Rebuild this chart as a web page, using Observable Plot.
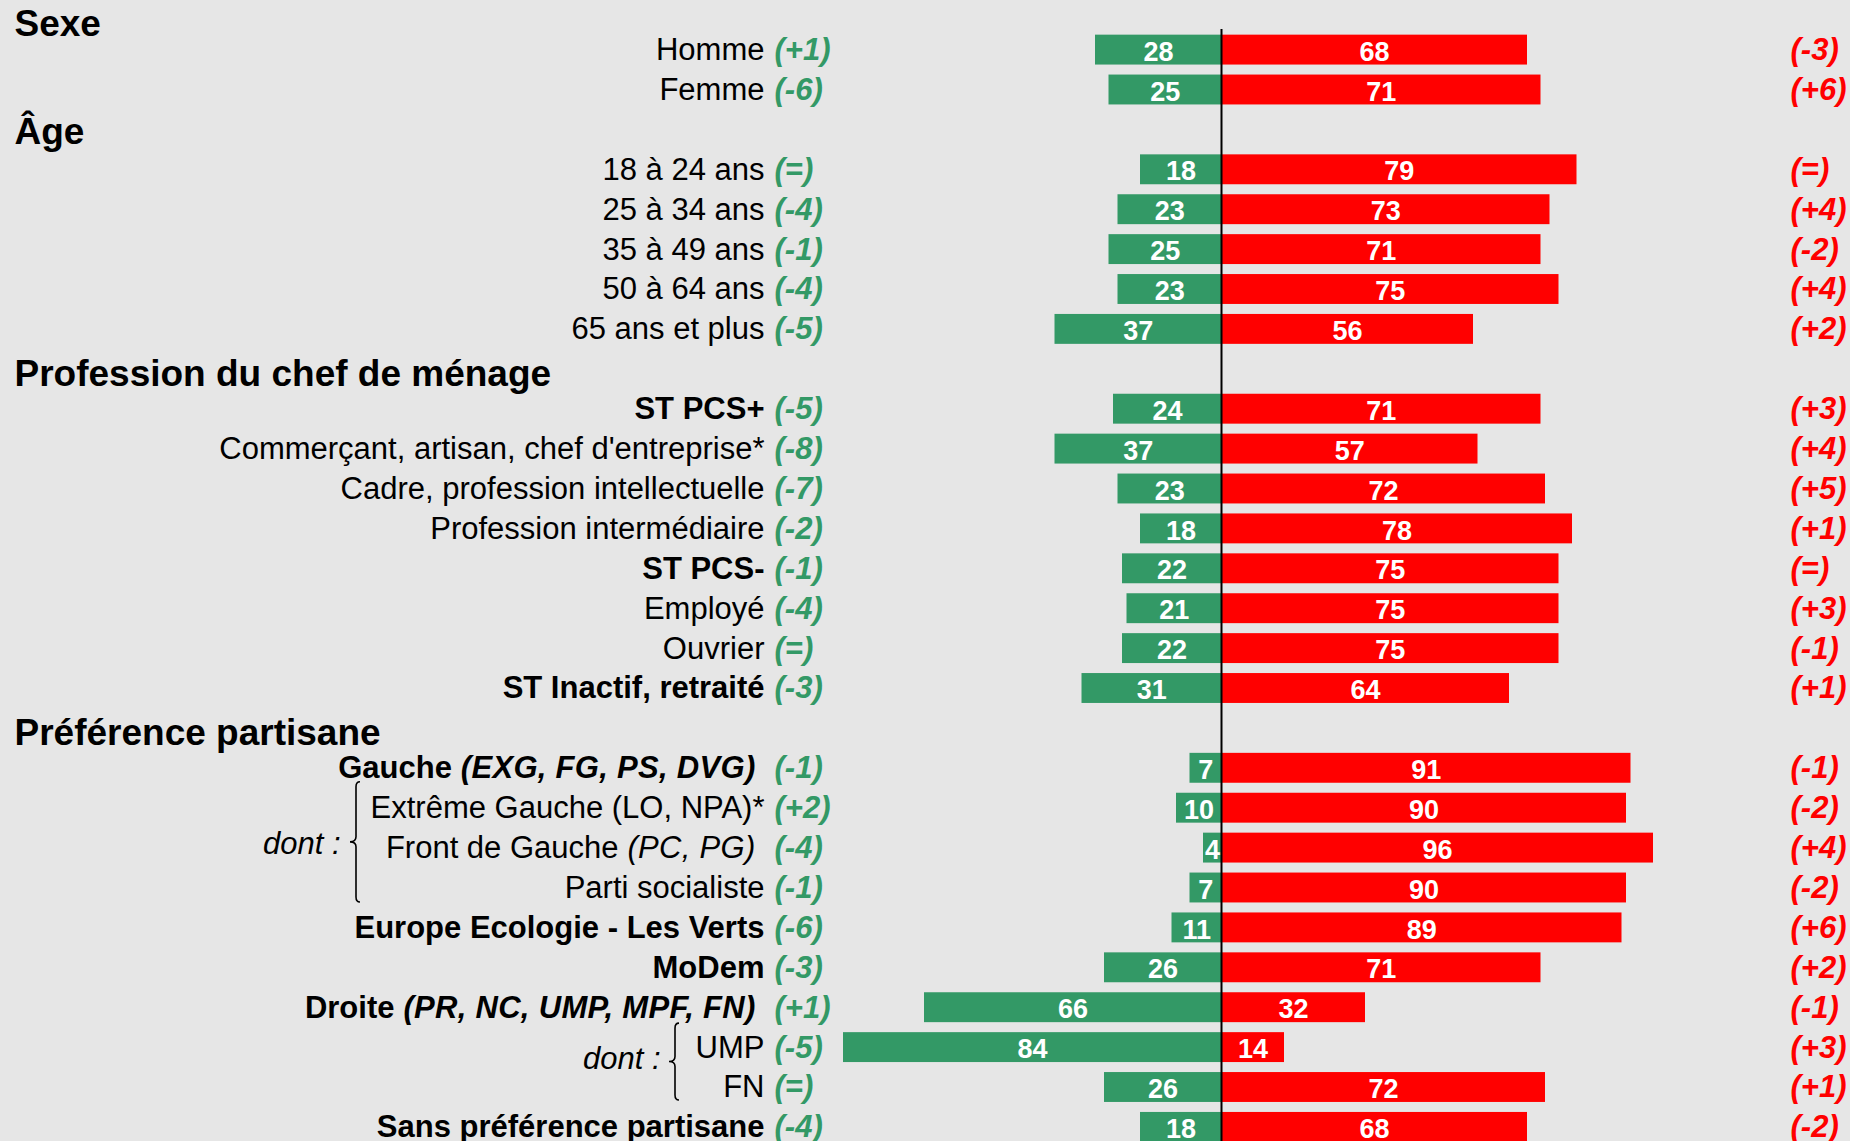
<!DOCTYPE html>
<html>
<head>
<meta charset="utf-8">
<script src="https://cdn.jsdelivr.net/npm/d3@7"></script>
<script src="https://cdn.jsdelivr.net/npm/@observablehq/plot@0.6"></script>
<style>
  html, body { margin: 0; padding: 0; background: #e6e6e6; }
  svg { display: block; }
</style>
</head>
<body>
<div id="chart"></div>
<script>
// ---------- DATA ----------
const headers = ["Sexe", "Âge", "Profession du chef de ménage", "Préférence partisane"];
const groupSizes = [2, 5, 8, 10];
const categories = [
  "Homme", "Femme",
  "18 à 24 ans", "25 à 34 ans", "35 à 49 ans", "50 à 64 ans", "65 ans et plus",
  "ST PCS+", "Commerçant, artisan, chef d'entreprise*", "Cadre, profession intellectuelle",
  "Profession intermédiaire", "ST PCS-", "Employé", "Ouvrier", "ST Inactif, retraité",
  "Gauche (EXG, FG, PS, DVG)", "Extrême Gauche (LO, NPA)*", "Front de Gauche (PC, PG)",
  "Parti socialiste", "Europe Ecologie - Les Verts", "MoDem", "Droite (PR, NC, UMP, MPF, FN)",
  "UMP", "FN", "Sans préférence partisane"
];
const favorable   = [28, 25, 18, 23, 25, 23, 37, 24, 37, 23, 18, 22, 21, 22, 31, 7, 10, 4, 7, 11, 26, 66, 84, 26, 18];
const defavorable = [68, 71, 79, 73, 71, 75, 56, 71, 57, 72, 78, 75, 75, 75, 64, 91, 90, 96, 90, 89, 71, 32, 14, 72, 68];
const evolFavorable   = ["(+1)", "(-6)", "(=)", "(-4)", "(-1)", "(-4)", "(-5)", "(-5)", "(-8)", "(-7)", "(-2)", "(-1)", "(-4)", "(=)", "(-3)", "(-1)", "(+2)", "(-4)", "(-1)", "(-6)", "(-3)", "(+1)", "(-5)", "(=)", "(-4)"];
const evolDefavorable = ["(-3)", "(+6)", "(=)", "(+4)", "(-2)", "(+4)", "(+2)", "(+3)", "(+4)", "(+5)", "(+1)", "(=)", "(+3)", "(-1)", "(+1)", "(-1)", "(-2)", "(+4)", "(-2)", "(+6)", "(+2)", "(-1)", "(+3)", "(+1)", "(-2)"];
const boldCategories = ["ST PCS+", "ST PCS-", "ST Inactif, retraité", "Gauche (EXG, FG, PS, DVG)",
  "Europe Ecologie - Les Verts", "MoDem", "Droite (PR, NC, UMP, MPF, FN)", "Sans préférence partisane"];
const italicParenCategories = ["Gauche (EXG, FG, PS, DVG)", "Front de Gauche (PC, PG)", "Droite (PR, NC, UMP, MPF, FN)"];
const subGroupLabel = "dont :";
const subGroups = [["Extrême Gauche (LO, NPA)*", "Parti socialiste"], ["UMP", "FN"]];

// ---------- BUILD TABLE ----------
const GREEN = "#339966", RED = "#ff0000";
const FONT = "'Liberation Sans', Arial, Helvetica, sans-serif";
const domain = [];
let idx = 0;
headers.forEach((h, g) => {
  domain.push(h);
  for (let k = 0; k < groupSizes[g]; k++) domain.push(categories[idx++]);
});
const italicSuffix = {};
const rows = categories.map((c, i) => {
  let main = c;
  if (italicParenCategories.includes(c)) {
    const p = c.indexOf(" (");
    main = c.slice(0, p);
    italicSuffix[main] = c.slice(p);
  }
  return {key: c, main, bold: boldCategories.includes(c), fav: favorable[i], def: defavorable[i],
          evF: evolFavorable[i], evD: evolDefavorable[i]};
});

const W = 1850, H = 1141;
const step = 39.9, yTop = -10.25;

const plot = Plot.plot({
  width: W, height: H,
  marginLeft: 771, marginRight: 179, marginTop: 29, marginBottom: 0,
  style: {background: "#e6e6e6", fontFamily: FONT, overflow: "visible"},
  x: {domain: [-100, 100], axis: null},
  y: {type: "band", domain, range: [yTop, yTop + domain.length * step], padding: 0, round: false, axis: null},
  marks: [
    Plot.barX(rows, {y: "key", x1: d => -d.fav, x2: 0, fill: GREEN, insetTop: 5, insetBottom: 5}),
    Plot.barX(rows, {y: "key", x1: 0, x2: "def", fill: RED, insetTop: 5, insetBottom: 5}),
    Plot.ruleX([0], {stroke: "black", strokeWidth: 2}),
    Plot.text(rows, {y: "key", x: d => -d.fav / 2, text: d => String(d.fav), fill: "white",
      fontWeight: "bold", fontSize: 27, dy: 2}),
    Plot.text(rows, {y: "key", x: d => d.def / 2, text: d => String(d.def), fill: "white",
      fontWeight: "bold", fontSize: 27, dy: 2}),
    Plot.text(rows.filter(d => !d.bold), {y: "key", text: "main", frameAnchor: "left", dx: -7,
      textAnchor: "end", fontSize: 31, fill: "black"}),
    Plot.text(rows.filter(d => d.bold), {y: "key", text: "main", frameAnchor: "left", dx: -7,
      textAnchor: "end", fontSize: 31, fontWeight: "bold", fill: "black"}),
    Plot.text(rows, {y: "key", text: "evF", frameAnchor: "left", dx: 3, textAnchor: "start",
      fontSize: 31, fontWeight: "bold", fontStyle: "italic", fill: GREEN}),
    Plot.text(rows, {y: "key", text: "evD", frameAnchor: "right", dx: 119, textAnchor: "start",
      fontSize: 31, fontWeight: "bold", fontStyle: "italic", fill: RED}),
    Plot.text(headers.slice(0, 1), {y: d => d, text: d => d, frameAnchor: "left", dx: -757,
      textAnchor: "start", fontSize: 37, fontWeight: "bold", fill: "black", dy: 14}),
    Plot.text(headers.slice(1, 2), {y: d => d, text: d => d, frameAnchor: "left", dx: -757,
      textAnchor: "start", fontSize: 37, fontWeight: "bold", fill: "black", dy: 2}),
    Plot.text(headers.slice(2), {y: d => d, text: d => d, frameAnchor: "left", dx: -757,
      textAnchor: "start", fontSize: 37, fontWeight: "bold", fill: "black", dy: 5}),
    Plot.text([subGroupLabel], {y: () => categories[17], text: d => d,
      frameAnchor: "left", dx: -431, textAnchor: "end", fontSize: 31, fontStyle: "italic", fill: "black", dy: -4}),
    Plot.text([subGroupLabel], {y: () => subGroups[1][0], text: d => d,
      frameAnchor: "left", dx: -111, textAnchor: "end", fontSize: 31, fontStyle: "italic", fill: "black", dy: 11})
  ]
});

// italic parenthetical parts of some labels (appended to the label text elements)
d3.select(plot).selectAll("text").each(function () {
  const t = this.textContent;
  if (Object.prototype.hasOwnProperty.call(italicSuffix, t)) {
    d3.select(this).style("white-space", "pre")
      .append("tspan").attr("font-style", "italic").attr("letter-spacing", "0.3px").text(italicSuffix[t] + " ");
  }
});

// curly braces for the "dont :" sub-groups, positioned with Plot's y scale
const ys = plot.scale("y");
const bw = ys.bandwidth;
const braceSpecs = [
  {x: 356, y0: ys.apply(subGroups[0][0]) - 6, y1: ys.apply(subGroups[0][1]) + bw - 5.5},
  {x: 675, y0: ys.apply(subGroups[1][0]) - 4, y1: ys.apply(subGroups[1][1]) + bw - 7}
];
const svg = d3.select(plot);
braceSpecs.forEach(({x, y0, y1}) => {
  const ym = (y0 + y1) / 2, r = 5, w = 4, tip = 6;
  const p = `M${x + w},${y0} Q${x},${y0} ${x},${y0 + r} L${x},${ym - r} Q${x},${ym} ${x - tip},${ym} ` +
            `Q${x},${ym} ${x},${ym + r} L${x},${y1 - r} Q${x},${y1} ${x + w},${y1}`;
  svg.append("path").attr("d", p).attr("fill", "none").attr("stroke", "black").attr("stroke-width", 1.6);
});

document.getElementById("chart").appendChild(plot);
</script>
</body>
</html>
